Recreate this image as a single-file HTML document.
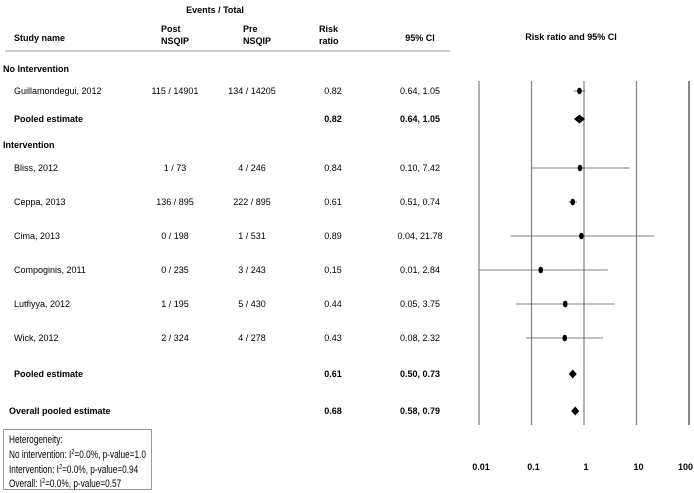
<!DOCTYPE html>
<html><head><meta charset="utf-8"><style>
body{margin:0;background:#fff;}
svg{display:block;font-family:"Liberation Sans",sans-serif;}
.b{font-weight:bold;}
</style></head><body>
<svg width="694" height="493">
<g font-size="9" fill="#000">
<text x="215" y="13" text-anchor="middle" class="b">Events / Total</text>
<text x="14" y="41" class="b">Study name</text>
<text x="161" y="32" class="b">Post</text>
<text x="161" y="44" class="b">NSQIP</text>
<text x="243" y="32" class="b">Pre</text>
<text x="243" y="44" class="b">NSQIP</text>
<text x="319" y="32" class="b">Risk</text>
<text x="319" y="44" class="b">ratio</text>
<text x="420" y="41" text-anchor="middle" class="b">95% CI</text>
<text x="571" y="40" text-anchor="middle" class="b">Risk ratio and 95% CI</text>
</g>
<line x1="5" y1="51" x2="450" y2="51" stroke="#bbb" stroke-width="1.5"/>
<g id="rows" font-size="9"></g>
<g id="plot"></g>
<rect x="3.5" y="429.5" width="148" height="60" fill="#fff" stroke="#999"/>
<g font-size="11" transform="scale(0.75,1)">
<text x="12" y="443">Heterogeneity:</text>
<text x="12" y="458">No intervention: I<tspan font-size="7.5" dy="-4">2</tspan><tspan dy="4">=0.0%, p-value=1.0</tspan></text>
<text x="12" y="473">Intervention: I<tspan font-size="7.5" dy="-4">2</tspan><tspan dy="4">=0.0%, p-value=0.94</tspan></text>
<text x="12" y="487">Overall: I<tspan font-size="7.5" dy="-4">2</tspan><tspan dy="4">=0.0%, p-value=0.57</tspan></text>
</g>
</svg>
<script>
const names=["No Intervention","Guillamondegui, 2012","Pooled estimate","Intervention","Bliss, 2012","Ceppa, 2013","Cima, 2013","Compoginis, 2011","Lutfiyya, 2012","Wick, 2012","Pooled estimate","Overall pooled estimate"];
const kinds=["h","s","p","h","s","s","s","s","s","s","p","o"];
const post=["","115 / 14901","","","1 / 73","136 / 895","0 / 198","0 / 235","1 / 195","2 / 324","",""];
const pre=["","134 / 14205","","","4 / 246","222 / 895","1 / 531","3 / 243","5 / 430","4 / 278","",""];
const rr=[null,0.82,0.82,null,0.84,0.61,0.89,0.15,0.44,0.43,0.61,0.68];
const lo=[null,0.64,0.64,null,0.10,0.51,0.04,0.01,0.05,0.08,0.50,0.58];
const hi=[null,1.05,1.05,null,7.42,0.74,21.78,2.84,3.75,2.32,0.73,0.79];
const ticks=[0.01,0.1,1,10,100];
const tickLabels=["0.01","0.1","1","10","100"];
const rowY=[69,91,119,145,168,202,236,270,304,338,374,411];
const NS="http://www.w3.org/2000/svg";
const X=v=>584+52.5*Math.log10(v);
function mk(p,tag,a,t){const e=document.createElementNS(NS,tag);for(const k in a)e.setAttribute(k,a[k]);if(t!==undefined)e.textContent=t;p.appendChild(e);return e;}
const rows=document.getElementById('rows'),plot=document.getElementById('plot');
ticks.forEach((t,i)=>{
 const l=mk(plot,'line',{x1:X(t),x2:X(t),y1:81,y2:425,stroke:i==4?'#444':'#888','stroke-width':1.3});
 
 
 const last=i===ticks.length-1;
 const tx=mk(plot,'text',{x:last?693:X(t)+2,y:470,'text-anchor':last?'end':'middle','font-size':9,'font-weight':'bold'},tickLabels[i]);
 
 
});
names.forEach((n,i)=>{
 const y=rowY[i];const k=kinds[i];
 const bold=(k!=='s');
 const g=mk(rows,'g',{'font-weight':bold?'bold':'normal'});
 
 
 const xName=(k==='h')?3:(k==='o'?9:14);
 mk(g,'text',{x:xName,y:y+3},n);
 if(post[i])mk(g,'text',{x:175,y:y+3,'text-anchor':'middle'},post[i]);
 if(pre[i])mk(g,'text',{x:252,y:y+3,'text-anchor':'middle'},pre[i]);
 if(rr[i]!==null){
  mk(g,'text',{x:333,y:y+3,'text-anchor':'middle'},rr[i].toFixed(2));
  mk(g,'text',{x:420,y:y+3,'text-anchor':'middle'},lo[i].toFixed(2)+", "+hi[i].toFixed(2));
  const m=mk(plot,'g',{});
  
  
  const cx=X(rr[i]);
  if(k==='s'){
   mk(m,'line',{x1:X(lo[i]),x2:X(hi[i]),y1:y,y2:y,stroke:'#555','stroke-width':0.8});
   mk(m,'ellipse',{cx:cx,cy:y,rx:2.3,ry:3.3,fill:'#000'});
  }else{
   const w=k==='p'&&i===2?5.5:4;
   mk(m,'polygon',{points:`${cx-w},${y} ${cx},${y-4.5} ${cx+w},${y} ${cx},${y+4.5}`,fill:'#000'});
  }
 }
});
</script>
</body></html>
